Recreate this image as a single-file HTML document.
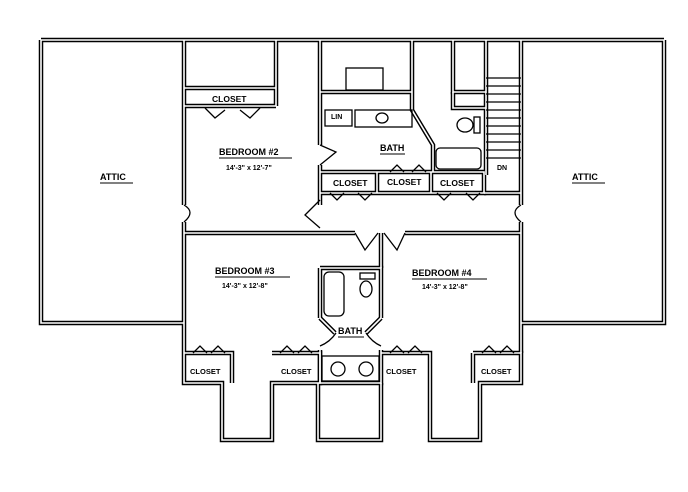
<!DOCTYPE html>
<html><head><style>
body{margin:0;background:#fff;}
svg{display:block;}
text{font-family:"Liberation Sans",sans-serif;font-weight:bold;fill:#000;}
</style></head><body>
<svg width="688" height="492" viewBox="0 0 688 492" xmlns="http://www.w3.org/2000/svg">
<defs>
<g id="w">
<path d="M41 40 H664"/>
<path d="M41 40 V323 H184"/>
<path d="M184 40 V205 M184 222 V353"/>
<path d="M664 40 V323 H521"/>
<path d="M521 40 V205 M521 222 V353"/>
<path d="M184 233 H355 M405 233 H521"/>
<path d="M381 233 V268"/>
<path d="M184 88 H276 M184 106 H276 M276 40 V106"/>
<path d="M320 40 V145 M320 165 V205"/>
<path d="M320 92 H412 M412 40 V110 L433 145 V172"/>
<path d="M453 40 V92 H486 M486 40 V175"/>
<path d="M453 92 V108 H486"/>
<path d="M320 172 H484 V193 H320"/>
<path d="M377 172 V193 M431 172 V193"/>
<path d="M484 193 H521"/>
<path d="M320 268 H381 V318 M320 268 V318"/>
<path d="M320 318 L335 333 M381 318 L366 333"/>
<path d="M320 350 V383 H381 V350"/>
<path d="M184 353 V383 H222 V440 H272 V383 H320 V353 H272"/>
<path d="M381 353 H430 V383 M381 383 V440 H318 V383"/>
<path d="M430 383 V440 H480 V383 H521 V353 H473"/>
<path d="M184 353 H232 V383 M473 353 V383"/>
</g>
</defs>
<use href="#w" fill="none" stroke="#000" stroke-width="4.5"/>
<use href="#w" fill="none" stroke="#fff" stroke-width="1.6"/>
<g fill="none" stroke="#000" stroke-width="1.3">
<rect x="346" y="68" width="37" height="22"/>
<rect x="325" y="110" width="27" height="16"/>
<rect x="355" y="110" width="57" height="17"/>
<ellipse cx="382" cy="118" rx="6" ry="5"/>
<ellipse cx="465" cy="125" rx="8" ry="7"/>
<rect x="474" y="117" width="6" height="16"/>
<rect x="436" y="148" width="45" height="21" rx="4"/>
<rect x="324" y="272" width="20" height="44" rx="5"/>
<ellipse cx="366" cy="289" rx="6" ry="8"/>
<rect x="360" y="273" width="15" height="6"/>
<circle cx="338" cy="369" r="7"/><circle cx="366" cy="369" r="7"/>
<rect x="322" y="356" width="57" height="25"/>
<path d="M486 78 H521 M486 86 H521 M486 94 H521 M486 102 H521 M486 110 H521 M486 118 H521 M486 126 H521 M486 134 H521 M486 142 H521 M486 150 H521 M486 158 H521"/>
<path d="M184 205 Q196 212 184 222 M521 205 Q509 212 521 222"/>
<path d="M320 145 L336 152 L320 165 M320 200 L305 215 L320 228"/>
<path d="M355 233 L365 250 L378 233 M384 233 L397 250 L405 233"/>
<path d="M205 108 L215 118 L225 110 M240 110 L250 118 L260 108"/>
<path d="M330 193 L337 200 L344 193 M358 193 L365 200 L372 193"/>
<path d="M437 193 L444 200 L451 193 M466 193 L473 200 L480 193"/>
<path d="M390 172 L397 165 L404 172 M412 172 L419 165 L426 172"/>
<path d="M193 353 L200 346 L207 353 M211 353 L218 346 L225 353"/>
<path d="M280 353 L287 346 L294 353 M298 353 L305 346 L312 353"/>
<path d="M390 353 L397 346 L404 353 M408 353 L415 346 L422 353"/>
<path d="M482 353 L489 346 L496 353 M500 353 L507 346 L514 353"/>
<path d="M336 333 Q330 342 320 346 M366 333 Q372 342 381 346"/>
<path d="M100 183 H133 M572 183 H605 M219 158 H292 M215 277 H290 M412 279 H487 M380 154 H405 M338 337 H364" stroke-width="1"/>
</g>
<g font-size="8.5">
<text x="100" y="180" font-size="9">ATTIC</text>
<text x="572" y="180" font-size="9">ATTIC</text>
<text x="212" y="102">CLOSET</text>
<text x="219" y="155" font-size="9">BEDROOM #2</text>
<text x="226" y="170" font-size="7" font-weight="normal">14'-3" x 12'-7"</text>
<text x="331" y="119" font-size="7">LIN</text>
<text x="380" y="151" font-size="9">BATH</text>
<text x="333" y="186">CLOSET</text>
<text x="387" y="185">CLOSET</text>
<text x="440" y="186">CLOSET</text>
<text x="497" y="170" font-size="7">DN</text>
<text x="215" y="274" font-size="9">BEDROOM #3</text>
<text x="222" y="288" font-size="7" font-weight="normal">14'-3" x 12'-8"</text>
<text x="412" y="276" font-size="9">BEDROOM #4</text>
<text x="422" y="289" font-size="7" font-weight="normal">14'-3" x 12'-8"</text>
<text x="338" y="334" font-size="9">BATH</text>
<text x="190" y="374" font-size="7.5">CLOSET</text>
<text x="281" y="374" font-size="7.5">CLOSET</text>
<text x="386" y="374" font-size="7.5">CLOSET</text>
<text x="481" y="374" font-size="7.5">CLOSET</text>
</g>
</svg>
</body></html>
